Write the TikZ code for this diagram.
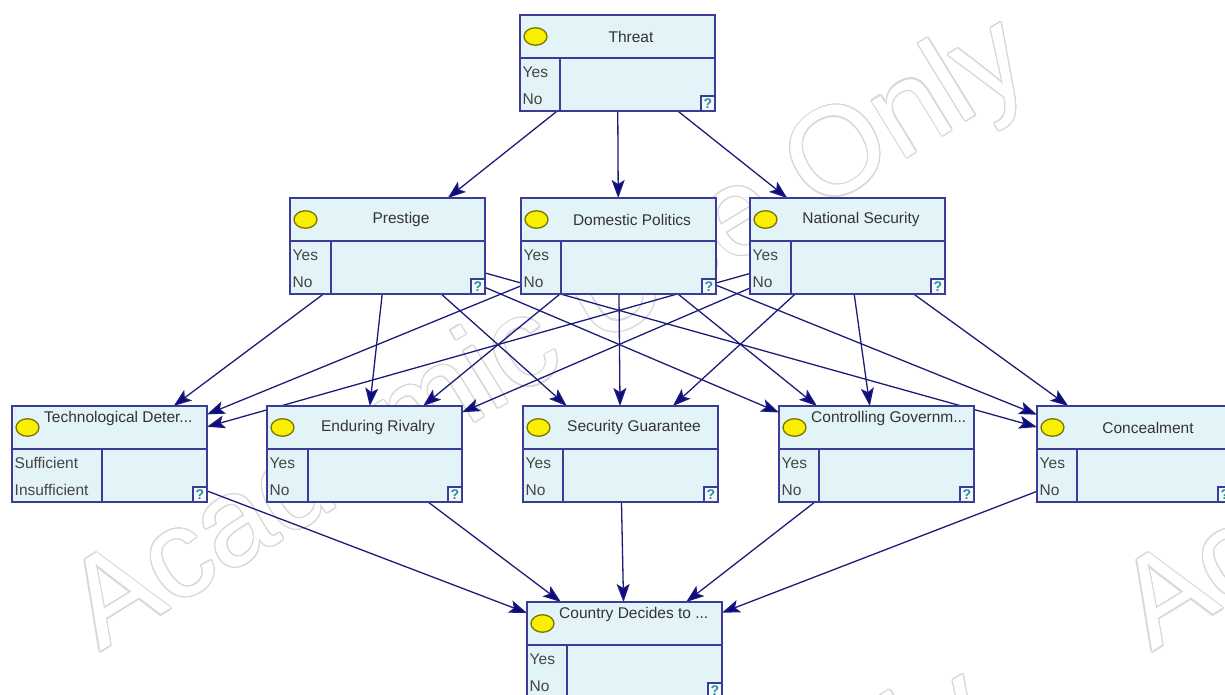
\documentclass[tikz,border=0pt]{standalone}
\usepackage{fontspec}
\usepackage{contour}
\usetikzlibrary{arrows.meta,shapes.geometric}
\newfontfamily\netfont{Liberation Sans}

\definecolor{boxfill}{HTML}{E3F4F8}
\definecolor{boxline}{HTML}{3C3C98}
\definecolor{edgecol}{HTML}{1C1C78}
\definecolor{tipcol}{HTML}{0A0A86}
\definecolor{titlecol}{HTML}{333333}
\definecolor{statecol}{HTML}{444444}
\definecolor{bulbfill}{HTML}{F8F000}
\definecolor{bulbline}{HTML}{7A7400}
\definecolor{helpcol}{HTML}{2A8C9C}
\definecolor{wmline}{HTML}{D8D8D8}

\pgfdeclarelayer{marks}
\pgfdeclarelayer{links}
\pgfsetlayers{marks,links,main}

% outlined watermark lettering
\contourlength{1.2pt}
\contournumber{20}
\newcommand{\wmtext}[1]{\contour{wmline}{\color{white}#1}}

\tikzset{
  x=1pt, y=-1pt,
  netbox/.style={draw=boxline, fill=boxfill, line width=1.4pt, inner sep=0pt,
    outer sep=0pt, minimum width=195pt, minimum height=96pt},
  divline/.style={draw=boxline, line width=1.4pt},
  bulb/.style={ellipse, draw=bulbline, fill=bulbfill, line width=1.3pt,
    minimum width=23pt, minimum height=17.5pt, inner sep=0pt},
  title/.style={inner sep=0pt, text=titlecol, font=\netfont\fontsize{15.5}{18}\selectfont},
  state/.style={anchor=west, inner sep=0pt, text=statecol, font=\netfont\fontsize{15.5}{18}\selectfont},
  help/.style={draw=boxline, fill=white!55!boxfill, line width=1.2pt, inner sep=0pt,
    minimum width=14pt, minimum height=15pt, text=helpcol,
    font=\netfont\bfseries\fontsize{14}{14}\selectfont},
  link/.style={draw=edgecol, line width=1.3pt,
    -{Stealth[length=18pt,width=13pt,inset=4pt,fill=tipcol]}},
  wm/.style={inner sep=0pt, anchor=base west, rotate=31.5,
    font=\netfont\fontsize{125}{125}\selectfont}
}

% one network node: name, left, top, state column width, title mode (c/l),
% title, first state, second state
\newcommand{\bayesnode}[8]{%
  \node[netbox] (#1) at (#2+97.5,#3+48) {};
  \draw[divline] (#2,#3+43) -- (#2+195,#3+43);
  \draw[divline] (#2+#4,#3+43) -- (#2+#4,#3+96);
  \node[bulb] (#1-bulb) at (#2+15.5,#3+21.5) {};
  \ifx l#5
    \node[title, anchor=west] (#1-name) at (#2+32,#3+12.5) {#6};
  \else
    \node[title] (#1-name) at (#2+111,#3+21.5) {#6};
  \fi
  \node[state] (#1-a) at (#2+2.5,#3+57) {#7};
  \node[state] (#1-b) at (#2+2.5,#3+84) {#8};
  \node[help] (#1-help) at (#2+188,#3+88.5) {?};
}

\begin{document}
\begin{tikzpicture}
\useasboundingbox (0,0) rectangle (1225,694);
\clip (0,0) rectangle (1225,694);

% faint licence watermark behind everything
\begin{pgfonlayer}{marks}
  \node[wm] (wm1) at (100,652) {\wmtext{Academic Use Only}};
  \node[wm] (wm2) at (1152,652) {\wmtext{Academic Use Only}};
  \node[wm] (wm3) at (62,1304) {\wmtext{Academic Use Only}};
\end{pgfonlayer}

% nodes
\bayesnode{threat}{520}{15}{40}{c}{Threat}{Yes}{No}
\bayesnode{prestige}{290}{198}{41}{c}{Prestige}{Yes}{No}
\bayesnode{domestic}{521}{198}{40}{c}{Domestic Politics}{Yes}{No}
\bayesnode{security}{750}{198}{41}{c}{National Security}{Yes}{No}
\bayesnode{tech}{12}{406}{90}{l}{Technological Deter...}{Sufficient}{Insufficient}
\bayesnode{rivalry}{267}{406}{41}{c}{Enduring Rivalry}{Yes}{No}
\bayesnode{guarantee}{523}{406}{40}{c}{Security Guarantee}{Yes}{No}
\bayesnode{control}{779}{406}{40}{l}{Controlling Governm...}{Yes}{No}
\bayesnode{conceal}{1037}{406}{40}{c}{Concealment}{Yes}{No}
\bayesnode{decides}{527}{602}{40}{l}{Country Decides to ...}{Yes}{No}

% arcs, drawn below the boxes
\begin{pgfonlayer}{links}
  \foreach \t in {prestige,domestic,security}
    \draw[link] (threat) -- (\t);
  \foreach \s in {prestige,domestic,security}
    \foreach \t in {tech,rivalry,guarantee,control,conceal}
      \draw[link] (\s) -- (\t);
  \foreach \s in {tech,rivalry,guarantee,control,conceal}
    \draw[link] (\s) -- (decides);
\end{pgfonlayer}
\end{tikzpicture}
\end{document}
